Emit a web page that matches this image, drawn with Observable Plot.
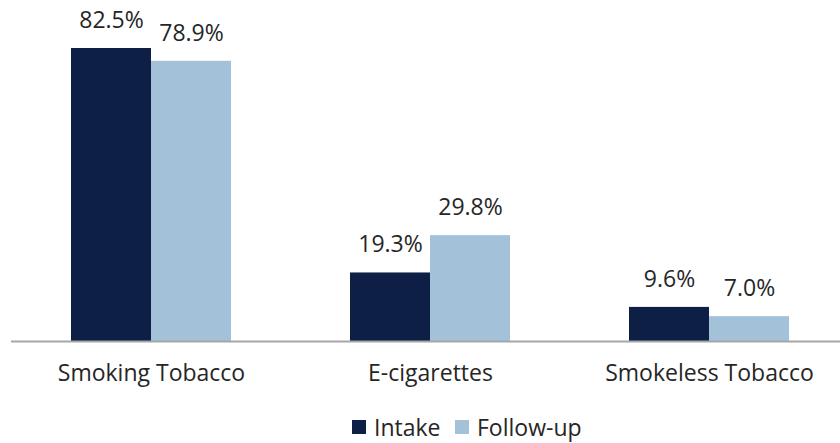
<!DOCTYPE html>
<html>
<head>
<meta charset="utf-8">
<script src="https://cdn.jsdelivr.net/npm/d3@7"></script>
<script src="https://cdn.jsdelivr.net/npm/@observablehq/plot@0.6"></script>
<style>
  html, body { margin: 0; padding: 0; background: #fff; }
  body { width: 840px; height: 443px; overflow: hidden; font-family: "Open Sans", sans-serif; color: #262626; }
  #chart svg { display: block; }
  #legend { position: relative; height: 38px; font-size: 23px; }
  .item { position: absolute; top: 9px; height: 26px; line-height: 26px; display: flex; align-items: center; }
  .sw { width: 14px; height: 14px; margin-right: 8px; }
</style>
</head>
<body>
<div id="chart"></div>
<div id="legend"></div>
<script>
const categories = ["Smoking Tobacco", "E-cigarettes", "Smokeless Tobacco"];
const seriesNames = ["Intake", "Follow-up"];
const intake = [82.5, 19.3, 9.6];
const followUp = [78.9, 29.8, 7.0];
const colors = ["#0e1f45", "#a3c2da"];

const rowsIntake = categories.map((c, i) => ({category: c, series: seriesNames[0], value: intake[i]}));
const rowsFollow = categories.map((c, i) => ({category: c, series: seriesNames[1], value: followUp[i]}));
const fmt = v => v.toFixed(1) + "%";

const chart = Plot.plot({
  width: 840,
  height: 405,
  marginLeft: 11,
  marginRight: 0,
  marginTop: 0,
  marginBottom: 64,
  style: {fontFamily: "Open Sans, sans-serif", fontSize: "23px", color: "#262626", background: "#fff"},
  x: {domain: categories, range: [11.5, 848.5], paddingInner: 0.427, paddingOuter: 0.2135},
  y: {domain: [0, 82.5], range: [341, 48]},
  color: {domain: seriesNames, range: colors},
  marks: [
    Plot.barY(rowsIntake, {x: "category", y: "value", fill: colors[0], insetRight: 80}),
    Plot.barY(rowsFollow, {x: "category", y: "value", fill: colors[1], insetLeft: 80}),
    Plot.ruleY([0], {stroke: "#a6a6a6", strokeWidth: 2}),
    Plot.text(rowsIntake, {x: "category", y: "value", text: d => fmt(d.value), dx: -40, dy: -28, fill: "#262626", fontSize: 23}),
    Plot.text(rowsFollow, {x: "category", y: "value", text: d => fmt(d.value), dx: 40, dy: -28, fill: "#262626", fontSize: 23}),
    Plot.axisX({tickSize: 0, tickPadding: 23, fontSize: 23, fill: "#262626", label: null}),
    Plot.axisY({ticks: [], label: null})
  ]
});
document.getElementById("chart").appendChild(chart);

const legend = document.getElementById("legend");
const lefts = [352, 455];
seriesNames.forEach((s, i) => {
  const it = document.createElement("div");
  it.className = "item";
  it.style.left = lefts[i] + "px";
  const sw = document.createElement("span");
  sw.className = "sw";
  sw.style.background = colors[i];
  const t = document.createElement("span");
  t.textContent = s;
  it.appendChild(sw);
  it.appendChild(t);
  legend.appendChild(it);
});
</script>
</body>
</html>
